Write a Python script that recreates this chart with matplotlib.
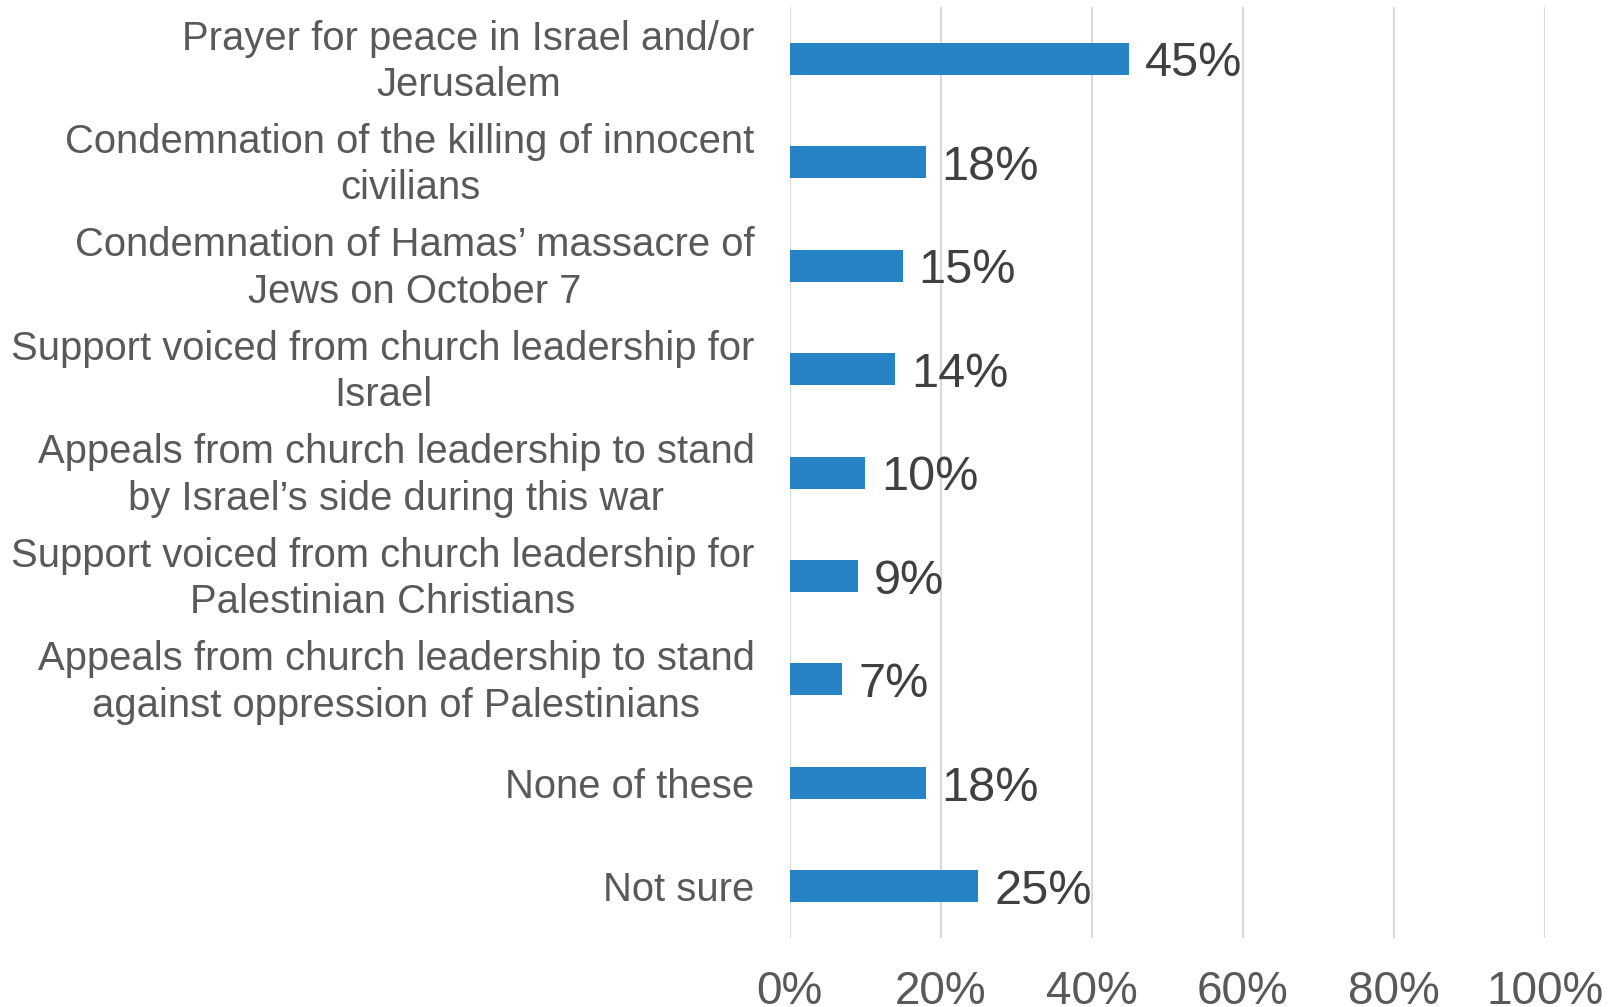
import matplotlib.pyplot as plt
import matplotlib.transforms as mtransforms

categories = [
    "Prayer for peace in Israel and/or\nJerusalem",
    "Condemnation of the killing of innocent\ncivilians",
    "Condemnation of Hamas\u2019 massacre of\nJews on October 7",
    "Support voiced from church leadership for\nIsrael",
    "Appeals from church leadership to stand\nby Israel\u2019s side during this war",
    "Support voiced from church leadership for\nPalestinian Christians",
    "Appeals from church leadership to stand\nagainst oppression of Palestinians",
    "None of these",
    "Not sure",
]
values = [45, 18, 15, 14, 10, 9, 7, 18, 25]
xticks = [0, 20, 40, 60, 80, 100]

bar_color = "#2683C6"
grid_color = "#D9D9D9"

fig = plt.figure(figsize=(16.14, 10.07), dpi=100)
ax = fig.add_axes([0.4892, 0.0685, 0.4680, 0.9245])

pos = list(range(len(categories)))
ax.barh(pos, values, height=0.31, color=bar_color, zorder=3)

# etiquetas de valor a la derecha de cada barra
for p, v in zip(pos, values):
    ax.text(v + 2.1, p + 0.05, f"{v}%", va="center", ha="left", fontsize=35,
            color="#404040", family="Liberation Sans")

ax.set_xlim(0, 100)
ax.set_ylim(len(categories) - 0.5, -0.5)
ax.set_yticks(pos)
ax.set_yticklabels([])

# etiquetas de categoria dibujadas a mano
base = mtransforms.blended_transform_factory(ax.transAxes, ax.transData)
for p, cat in zip(pos, categories):
    dy = -0.03 if "\n" in cat else -0.04
    tr = base + mtransforms.ScaledTranslation(-0.35, dy, fig.dpi_scale_trans)
    ax.text(0, p, cat, transform=tr, ha="right", va="center",
            multialignment="center", fontsize=28.8, color="#595959",
            family="Liberation Sans", linespacing=1.28)

ax.set_xticks(xticks)
ax.set_xticklabels([f"{t}%" for t in xticks], fontsize=33, color="#595959",
                   family="Liberation Sans")
ax.tick_params(axis="y", length=0)
ax.tick_params(axis="x", length=0, pad=23)

for s in ["top", "right", "bottom", "left"]:
    ax.spines[s].set_visible(False)
ax.grid(axis="x", color=grid_color, linewidth=1.5, zorder=0)
ax.set_axisbelow(True)

fig.savefig("out.png", dpi=100)
